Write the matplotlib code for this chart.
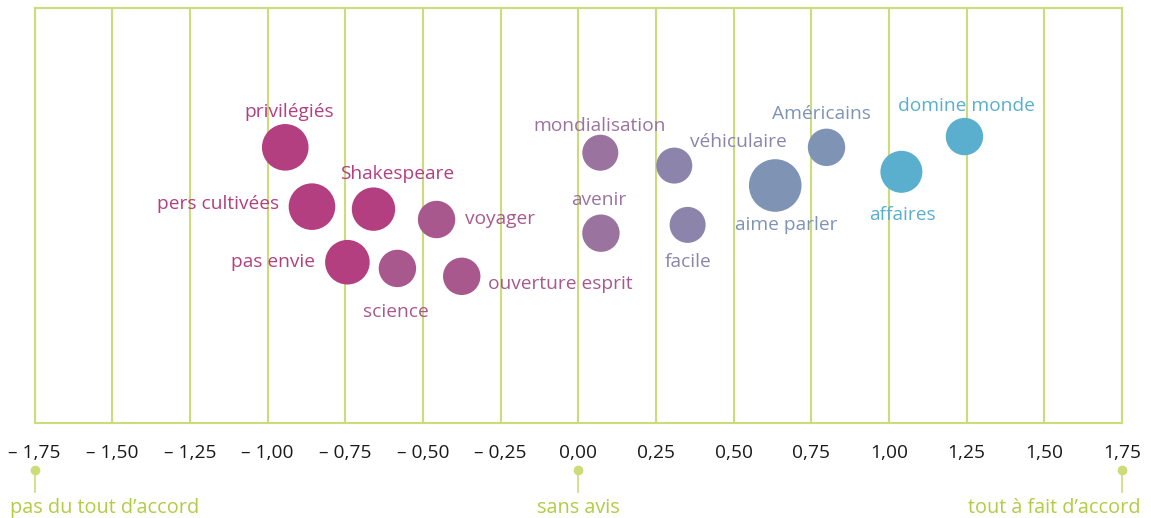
import matplotlib
matplotlib.use("Agg")
import matplotlib.pyplot as plt
import matplotlib.transforms as mtransforms

# ---- donnees -----------------------------------------------------------------
items = ["privilégiés", "pers cultivées", "Shakespeare", "voyager", "pas envie",
         "science", "ouverture esprit", "mondialisation", "avenir",
         "véhiculaire", "facile", "aime parler", "Américains", "affaires",
         "domine monde"]
score = [-0.943, -0.857, -0.659, -0.456, -0.743, -0.582, -0.375, 0.071, 0.073,
         0.309, 0.352, 0.634, 0.799, 1.040, 1.243]
pos_y = [0.664, 0.521, 0.515, 0.490, 0.387, 0.372, 0.353, 0.651, 0.457,
         0.620, 0.477, 0.572, 0.664, 0.605, 0.690]
rayon = [23.3, 23.3, 21.7, 18.7, 22.3, 18.7, 18.7, 18.0, 18.7, 18.0, 18.0,
         26.3, 18.7, 21.0, 18.7]
groupe = [0, 0, 0, 1, 0, 1, 1, 2, 2, 3, 3, 4, 4, 5, 5]

ticks = [-1.75, -1.5, -1.25, -1.0, -0.75, -0.5, -0.25, 0, 0.25, 0.5, 0.75,
         1.0, 1.25, 1.5, 1.75]
tick_labels = ["– 1,75", "– 1,50", "– 1,25", "– 1,00", "– 0,75", "– 0,50",
               "– 0,25", "0,00", "0,25", "0,50", "0,75", "1,00", "1,25",
               "1,50", "1,75"]
reperes = [-1.75, 0, 1.75]
reperes_txt = ["pas du tout d\u2019accord", "sans avis", "tout à fait d\u2019accord"]

# ---- style -------------------------------------------------------------------
GRID = "#CCDC78"
GREEN_TXT = "#B3CC45"
COLS = ["#B33F80", "#A8588D", "#9B739F", "#8C84AB", "#7F93B5", "#5AAECE"]

# decalage des etiquettes (pixels, y vers le haut) + alignement
LBL = {
    "privilégiés": (4, 35, "center"),
    "pers cultivées": (-33, 3, "right"),
    "Shakespeare": (24, 35, "center"),
    "voyager": (28, 0, "left"),
    "pas envie": (-32, 0, "right"),
    "science": (-2, -44, "center"),
    "ouverture esprit": (26, -8, "left"),
    "mondialisation": (-1, 27, "center"),
    "avenir": (-2, 33, "center"),
    "véhiculaire": (64, 24, "center"),
    "facile": (0, -37, "center"),
    "aime parler": (11, -40, "center"),
    "Américains": (-5, 33, "center"),
    "affaires": (1, -43, "center"),
    "domine monde": (2, 31, "center"),
}

plt.rcParams["font.family"] = ["Open Sans", "DejaVu Sans"]
DPI = 100
fig = plt.figure(figsize=(11.51, 5.18), dpi=DPI)
W, H = 1151, 518
ax = fig.add_axes([34.5 / W, (H - 422.7) / H, (1122 - 34.5) / W, (422.7 - 8) / H])
ax.set_xlim(-1.75, 1.75)
ax.set_ylim(0, 1)

for x in ticks:
    ax.axvline(x, color=GRID, lw=1.5, zorder=0)
for s in ax.spines.values():
    s.set_color(GRID)
    s.set_linewidth(1.5)

ax.set_yticks([])
ax.set_xticks(ticks)
ax.set_xticklabels(tick_labels, fontsize=13.8, color="#1a1a1a")
ax.tick_params(axis="x", length=0, pad=15)

sizes = [(2 * r * 72 / DPI) ** 2 for r in rayon]
ax.scatter(score, pos_y, s=sizes, c=[COLS[g] for g in groupe],
           edgecolors="none", zorder=3)

for name, x, y, g in zip(items, score, pos_y, groupe):
    dx, dy, ha = LBL[name]
    ax.annotate(name, (x, y), xytext=(dx, dy), textcoords="offset pixels",
                ha=ha, va="center", fontsize=13.8, color=COLS[g])

trans = mtransforms.blended_transform_factory(ax.transData, ax.transAxes)
for x, t in zip(reperes, reperes_txt):
    ax.plot([x, x], [-0.114, -0.167], color=GRID, lw=1.2, transform=trans,
            clip_on=False)
    ax.plot([x], [-0.114], "o", ms=6, color=GRID, transform=trans, clip_on=False)
    ha = "left" if x < 0 else ("right" if x > 0 else "center")
    dx = -24.5 / 310.4 if x < 0 else (19 / 310.4 if x > 0 else 0)
    ax.text(x + dx, -0.205, t, ha=ha, va="center", fontsize=14.3,
            color=GREEN_TXT, transform=trans)

fig.savefig("out.png", dpi=DPI)
